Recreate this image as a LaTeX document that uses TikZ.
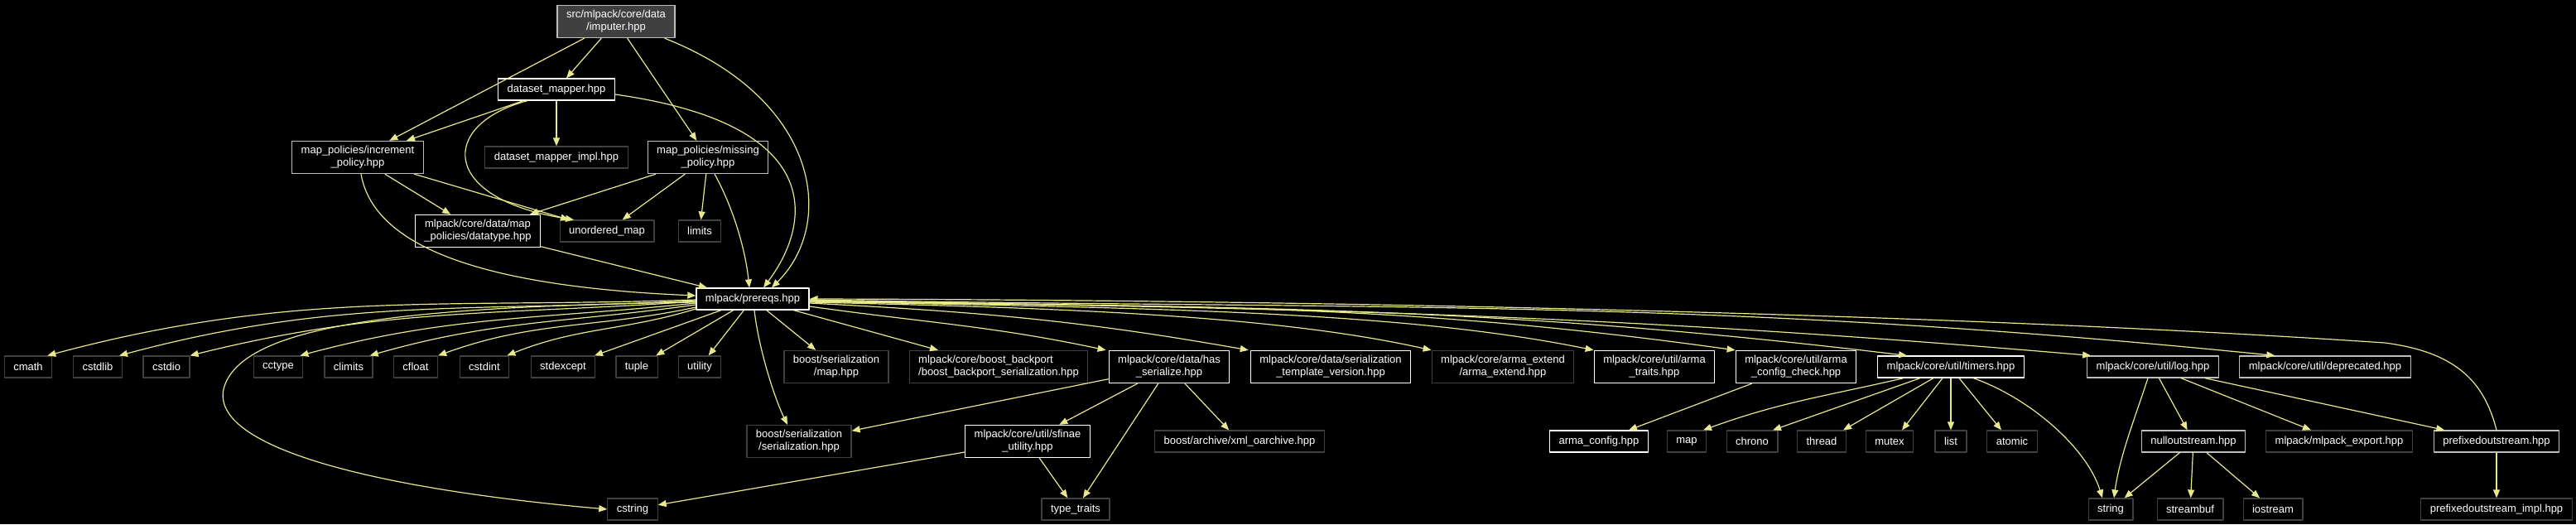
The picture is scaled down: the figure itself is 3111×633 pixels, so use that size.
\documentclass[tikz,border=0pt]{standalone}
\usepackage{fontspec}
\setmainfont{Liberation Sans}
\usetikzlibrary{arrows.meta}
\usepackage{xcolor}
\definecolor{edgeyellow}{RGB}{232,232,140}
\definecolor{rootgray}{RGB}{64,64,64}
\definecolor{halfgray}{RGB}{191,191,191}
\definecolor{sysgray}{RGB}{64,64,64}

\begin{document}
\begin{tikzpicture}[x=1pt, y=1pt, line join=round,
  hdr/.style={fill=black, text=white, line width=1.2pt, align=center,
    font=\fontsize{13}{15}\selectfont, inner xsep=11pt, inner ysep=6pt,
    minimum height=26pt},
  docfile/.style={hdr, draw=white},
  partfile/.style={hdr, draw=halfgray},
  sysfile/.style={hdr, draw=sysgray},
  rootfile/.style={hdr, draw=halfgray, fill=rootgray},
  inc/.style={draw=edgeyellow, line width=1.2pt,
    -{Triangle[length=10pt,width=8pt]}}]

  % Canvas (pixel units, y grows downwards as negative values)
  \fill[black] (0,0) rectangle (3111,-633);
  \useasboundingbox (0,0) rectangle (3111,-633);

  % The file itself and what it pulls in directly
  \node[rootfile] (imputer) at (744,-26) {src/mlpack/core/data\\/imputer.hpp};
  \node[docfile]  (dsmap)   at (672,-108) {dataset\_mapper.hpp};
  \node[partfile] (incpol)  at (432,-190) {map\_policies/increment\\\_policy.hpp};
  \node[sysfile]  (dsimpl)  at (672,-190) {dataset\_mapper\_impl.hpp};
  \node[partfile] (misspol) at (855,-190) {map\_policies/missing\\\_policy.hpp};
  \node[docfile]  (dtype)   at (577,-279) {mlpack/core/data/map\\\_policies/datatype.hpp};
  \node[sysfile]  (umap)    at (733,-279) {unordered\_map};
  \node[sysfile]  (limits)  at (845,-279) {limits};
  \node[docfile]  (prereqs) at (909,-361) {mlpack/prereqs.hpp};

  % Row under prereqs
  \node[sysfile] (cmath)     at (34,-443)  {cmath};
  \node[sysfile] (cstdlib)   at (118,-443) {cstdlib};
  \node[sysfile] (cstdio)    at (201,-443) {cstdio};
  \node[sysfile] (cctype)    at (336,-443) {cctype};
  \node[sysfile] (climits)   at (421,-443) {climits};
  \node[sysfile] (cfloat)    at (502,-443) {cfloat};
  \node[sysfile] (cstdint)   at (585,-443) {cstdint};
  \node[sysfile] (stdexcept) at (680,-443) {stdexcept};
  \node[sysfile] (tuple)     at (769,-443) {tuple};
  \node[sysfile] (utility)   at (845,-443) {utility};
  \node[sysfile] (bmap)      at (1010,-443) {boost/serialization\\/map.hpp};
  \node[sysfile, align=left] (backport) at (1206,-443)
    {mlpack/core/boost\_backport\\/boost\_backport\_serialization.hpp};
  \node[docfile] (hasser)    at (1412,-443) {mlpack/core/data/has\\\_serialize.hpp};
  \node[docfile] (sertv)     at (1607,-443) {mlpack/core/data/serialization\\\_template\_version.hpp};
  \node[sysfile] (armaext)   at (1815,-443) {mlpack/core/arma\_extend\\/arma\_extend.hpp};
  \node[docfile] (armatr)    at (1998,-443) {mlpack/core/util/arma\\\_traits.hpp};
  \node[docfile] (armacc)    at (2169,-443) {mlpack/core/util/arma\\\_config\_check.hpp};
  \node[docfile] (timers)    at (2356,-443) {mlpack/core/util/timers.hpp};
  \node[partfile] (loghpp)   at (2600,-443) {mlpack/core/util/log.hpp};
  \node[partfile] (deprec)   at (2808,-443) {mlpack/core/util/deprecated.hpp};

  % Third level
  \node[sysfile] (bser)      at (965,-533)  {boost/serialization\\/serialization.hpp};
  \node[docfile] (sfinae)    at (1241,-533) {mlpack/core/util/sfinae\\\_utility.hpp};
  \node[sysfile] (xmlo)      at (1497,-533) {boost/archive/xml\_oarchive.hpp};
  \node[docfile] (armacfg)   at (1931,-533) {arma\_config.hpp};
  \node[sysfile] (stdmap)    at (2037,-533) {map};
  \node[sysfile] (chrono)    at (2116,-533) {chrono};
  \node[sysfile] (thread)    at (2200,-533) {thread};
  \node[sysfile] (mutex)     at (2282,-533) {mutex};
  \node[sysfile] (stdlist)   at (2356,-533) {list};
  \node[sysfile] (atomic)    at (2430,-533) {atomic};
  \node[partfile] (nullos)   at (2649,-533) {nulloutstream.hpp};
  \node[sysfile] (mlexport)  at (2825,-533) {mlpack/mlpack\_export.hpp};
  \node[partfile] (prefos)   at (3015,-533) {prefixedoutstream.hpp};

  % Bottom row
  \node[sysfile] (cstring)   at (764,-615)  {cstring};
  \node[sysfile] (typetr)    at (1299,-615) {type\_traits};
  \node[sysfile] (stdstring) at (2549,-615) {string};
  \node[sysfile] (streambuf) at (2645,-615) {streambuf};
  \node[sysfile] (iostream)  at (2745,-615) {iostream};
  \node[sysfile] (prefimpl)  at (3015,-615) {prefixedoutstream\_impl.hpp};

  % Includes of imputer.hpp
  \draw[inc] (imputer) -- (incpol);
  \draw[inc] (imputer) -- (dsmap);
  \draw[inc] (imputer) -- (misspol);
  \draw[inc] ([xshift=-13pt]imputer.south east) .. controls (990,-120) and (1010,-270)
    .. ([xshift=23pt]prereqs.north);

  % dataset_mapper.hpp
  \draw[inc] (dsmap) -- (incpol);
  \draw[inc] (dsmap) -- (dsimpl);
  \draw[inc] ([xshift=-35pt]dsmap.south) .. controls (530,-150) and (530,-240)
    .. ([xshift=-40pt]umap.north);
  \draw[inc] ([yshift=-6pt]dsmap.east) .. controls (1000,-150) and (980,-270)
    .. ([xshift=13pt]prereqs.north);

  % the two policies
  \draw[inc] (incpol) -- (dtype);
  \draw[inc] (incpol) -- (umap);
  \draw[inc] ([xshift=4pt]incpol.south) .. controls (450,-290) and (560,-345)
    .. ([yshift=4pt]prereqs.west);
  \draw[inc] (misspol) -- (dtype);
  \draw[inc] (misspol) -- (umap);
  \draw[inc] (misspol) -- (limits);
  \draw[inc] ([xshift=8pt]misspol.south) .. controls (885,-250) and (900,-300)
    .. ([xshift=-4pt]prereqs.north);
  \draw[inc] (dtype) -- (prereqs);

  % prereqs.hpp, left half
  \draw[inc] ([yshift=-1pt]prereqs.west) to[out=182, in=15] ([xshift=-6pt]cmath.north east);
  \draw[inc] ([yshift=-2pt]prereqs.west) to[out=183, in=15] ([xshift=-4pt]cstdlib.north east);
  \draw[inc] ([yshift=-3pt]prereqs.west) to[out=184, in=14] (cstdio.north east);
  \draw[inc] ([yshift=-5pt]prereqs.west) to[out=186, in=15] ([xshift=-4pt]cctype.north east);
  \draw[inc] ([yshift=-7pt]prereqs.west) to[out=188, in=16] ([xshift=-4pt]climits.north east);
  \draw[inc] ([yshift=-10pt]prereqs.west) to[out=192, in=20] (cfloat.north east);
  \draw[inc] ([yshift=-12pt]prereqs.west) to[out=197, in=22] ([xshift=-3pt]cstdint.north east);
  \draw[inc] (prereqs) -- (stdexcept);
  \draw[inc] (prereqs) -- (tuple);
  \draw[inc] (prereqs) -- (utility);
  \draw[inc] (prereqs) -- (bmap);
  \draw[inc] ([xshift=2pt]prereqs.south) .. controls (916,-420) and (935,-480)
    .. ([xshift=-14pt]bser.north);
  \draw[inc] ([yshift=-4pt]prereqs.west) .. controls (500,-370) and (290,-390) .. (270,-470)
    .. controls (255,-540) and (450,-590) .. (cstring.west);

  % prereqs.hpp, right half
  \draw[inc] (prereqs) -- (backport);
  \draw[inc] ([yshift=-9pt]prereqs.east) to[out=-8, in=168] ([xshift=-3pt]hasser.north west);
  \draw[inc] ([yshift=-5pt]prereqs.east) to[out=-3, in=170] ([xshift=-2pt]sertv.north west);
  \draw[inc] ([yshift=-4pt]prereqs.east) .. controls (1310,-372) and (1550,-383)
    .. (armaext.north west);
  \draw[inc] ([yshift=-3pt]prereqs.east) .. controls (1380,-372) and (1690,-375)
    .. (armatr.north west);
  \draw[inc] ([yshift=-3pt]prereqs.east) .. controls (1414,-372) and (1666,-363)
    .. (armacc.north west);
  \draw[inc] ([yshift=-2pt]prereqs.east) .. controls (1494,-372) and (1792,-368)
    .. ([xshift=36pt]timers.north west);
  \draw[inc] ([yshift=-2pt]prereqs.east) .. controls (1580,-373) and (1924,-378)
    .. ([xshift=5pt]loghpp.north west);
  \draw[inc] ([yshift=-1pt]prereqs.east) .. controls (1670,-374) and (2057,-360)
    .. ([xshift=43pt]deprec.north west);

  % has_serialize.hpp and sfinae_utility.hpp
  \draw[inc] (hasser) -- (bser);
  \draw[inc] (hasser) -- (sfinae);
  \draw[inc] (hasser) -- (typetr);
  \draw[inc] (hasser) -- (xmlo);
  \draw[inc] (sfinae) -- (typetr);
  \draw[inc] (sfinae) -- (cstring);

  % arma_config_check.hpp and timers.hpp
  \draw[inc] (armacc) -- (armacfg);
  \draw[inc] ([xshift=-57pt]timers.south) to[out=193, in=20] ([xshift=20pt]stdmap.north);
  \draw[inc] ([xshift=-37pt]timers.south) -- ([xshift=25pt]chrono.north);
  \draw[inc] ([xshift=-21pt]timers.south) -- ([xshift=26pt]thread.north);
  \draw[inc] ([xshift=-10pt]timers.south) -- ([xshift=15pt]mutex.north);
  \draw[inc] (timers) -- (stdlist);
  \draw[inc] ([xshift=10pt]timers.south) -- ([xshift=-13pt]atomic.north);
  \draw[inc] ([xshift=27pt]timers.south) .. controls (2450,-480) and (2520,-540)
    .. ([xshift=-10pt]stdstring.north);

  % log.hpp and its helpers
  \draw[inc] ([xshift=-6pt]loghpp.south) .. controls (2580,-500) and (2560,-550)
    .. ([xshift=4pt]stdstring.north);
  \draw[inc] (loghpp) -- (nullos);
  \draw[inc] (loghpp) -- (mlexport);
  \draw[inc] (loghpp) -- (prefos);
  \draw[inc] (nullos) -- (stdstring);
  \draw[inc] (nullos) -- (streambuf);
  \draw[inc] (nullos) -- (iostream);
  \draw[inc] (prefos) -- (prefimpl);
  \draw[inc] (prefos.north) .. controls (3000,-460) and (2965,-425) .. (2880,-414)
    .. controls (2300,-375) and (1500,-362) .. (prereqs.east);
\end{tikzpicture}
\end{document}
